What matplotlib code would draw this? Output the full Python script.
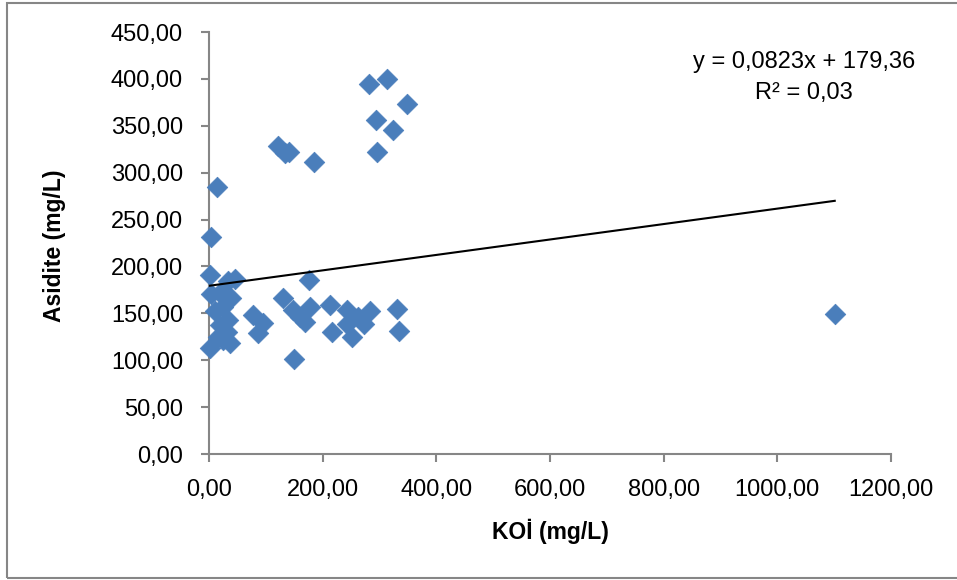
import numpy as np
import matplotlib
matplotlib.use("Agg")
import matplotlib.pyplot as plt
from matplotlib.patches import Rectangle

plt.rcParams['font.family'] = ['Liberation Sans', 'DejaVu Sans']

# KOİ vs Asidite (mg/L)
koi = [14, 4, 121, 141, 134, 185, 281, 314, 349, 294, 323, 295,
       1, 45, 33, 176, 4, 19, 39, 130, 10, 24, 33, 19, 77, 95, 86, 31, 16, 37, 1, 25,
       148, 177, 169, 160, 213, 242, 283, 262, 242, 272, 216, 251, 330, 335, 150, 1101]
asidite = [285, 231, 328, 322, 321, 311, 395, 400, 373, 356, 345, 322,
           191, 187, 185, 186, 171, 172, 166, 166, 153, 157, 143, 138, 148, 140, 129, 130, 125, 118, 113, 122,
           154, 157, 141, 146, 159, 154, 152, 146, 139, 139, 130, 125, 155, 131, 101, 149]

# trend line coefficients as printed on the chart
slope = 0.0823
intercept = 179.36
r2 = 0.03

x_ticks = [0, 200, 400, 600, 800, 1000, 1200]
y_ticks = [0, 50, 100, 150, 200, 250, 300, 350, 400, 450]


def fmt(v):
    return f"{v:.2f}".replace('.', ',')


W, H = 957, 580
fig = plt.figure(figsize=(W / 100, H / 100), dpi=100)
ax = fig.add_axes([209 / W, 1 - 454 / H, 682 / W, 422 / H])

ax.scatter(koi, asidite, marker='D', s=10.5 ** 2, color='#4a7ebb',
           edgecolors='#4a7ebb', linewidths=0.5, zorder=3, clip_on=False)

xs = np.array([min(koi), max(koi)])
ax.plot(xs, slope * xs + intercept, color='black', linewidth=1.5, zorder=4)

ax.set_xlim(0, 1200)
ax.set_ylim(0, 450)
ax.set_xticks(x_ticks)
ax.set_yticks(y_ticks)
ax.set_xticklabels([fmt(v) for v in x_ticks])
ax.set_yticklabels([fmt(v) for v in y_ticks])

for s in ['top', 'right']:
    ax.spines[s].set_visible(False)
for s in ['left', 'bottom']:
    ax.spines[s].set_color('#868686')
    ax.spines[s].set_linewidth(1.5)
    ax.spines[s].set_zorder(1)

ax.tick_params(axis='both', direction='out', length=5.8, width=1.5,
               color='#868686', labelsize=17, labelcolor='black')
ax.tick_params(axis='x', pad=12.5)
ax.tick_params(axis='y', pad=13)

fig.text(550 / W, 1 - 531 / H, "KOİ (mg/L)", ha='center', va='center',
         fontsize=16.5, fontweight='bold')
fig.text(55 / W, 1 - 246 / H, "Asidite (mg/L)", ha='center', va='center',
         rotation=90, fontsize=16.5, fontweight='bold')

# trend line equation
eq = "y = " + f"{slope:.4f}".replace('.', ',') + "x + " + fmt(intercept)
fig.text(804 / W, 1 - 62 / H, eq, ha='center', va='center', fontsize=17)
fig.text(804 / W, 1 - 93 / H, "R² = " + fmt(r2), ha='center', va='center', fontsize=17)

# outer chart border
fig.patches.append(Rectangle((7.5 / W, 2.5 / H), 960 / W, 575 / H,
                             transform=fig.transFigure, fill=False,
                             edgecolor='#868686', linewidth=1.5))

fig.savefig("out.png", dpi=100)
